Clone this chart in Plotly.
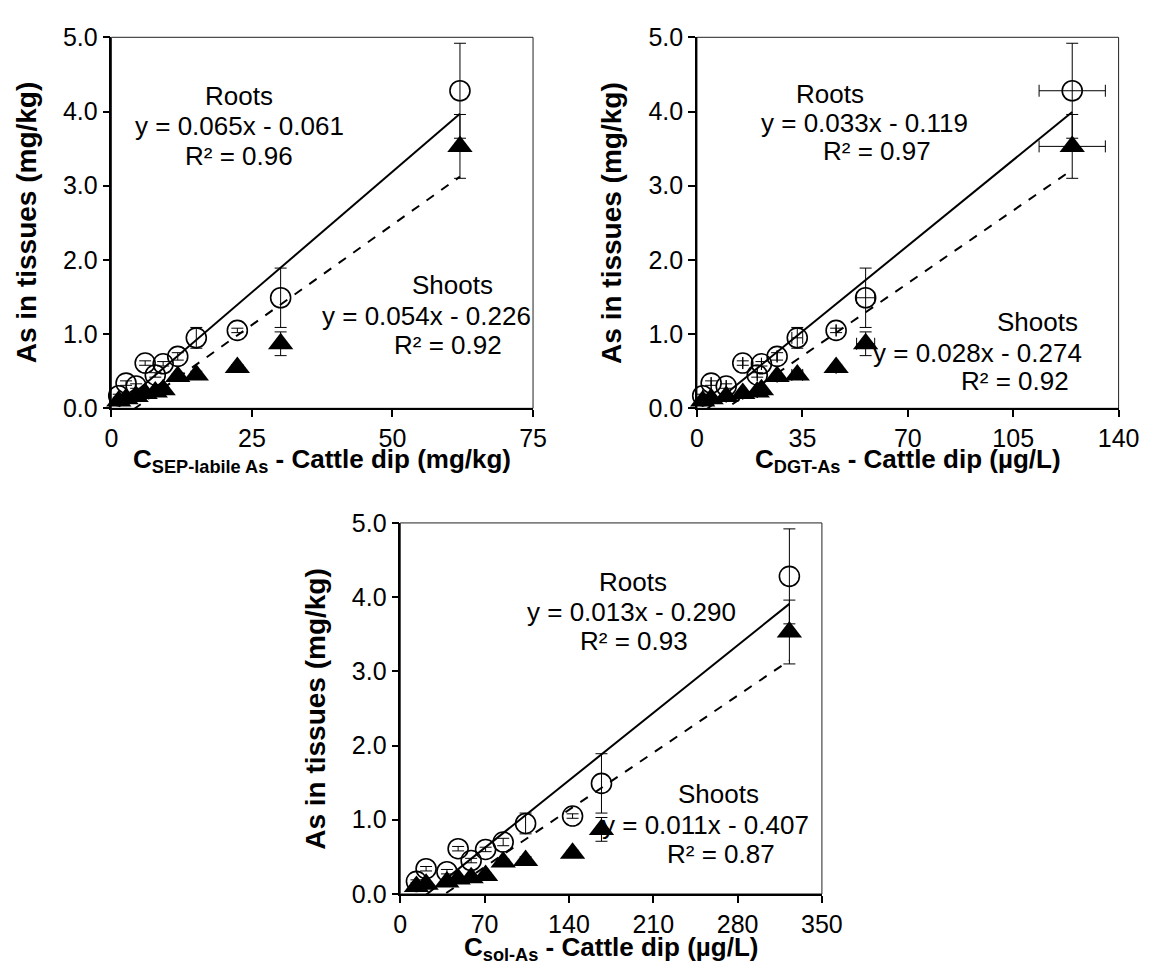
import plotly.graph_objects as go

W, H = 1164, 974

# ---------------- data ----------------
roots_y = [0.17, 0.34, 0.30, 0.61, 0.45, 0.60, 0.70, 0.95, 1.05, 1.49, 4.28]
roots_err = [0.02, 0.03, 0.03, 0.03, 0.03, 0.03, 0.05, 0.14, 0.03, 0.40, 0.64]
shoots_y = [0.10, 0.13, 0.16, 0.20, 0.22, 0.25, 0.43, 0.45, 0.55, 0.87, 3.53]
shoots_err = [0.01, 0.02, 0.02, 0.02, 0.03, 0.03, 0.04, 0.05, 0.04, 0.16, 0.43]

sep_x = [1.3, 2.6, 4.4, 6.0, 7.8, 9.2, 11.8, 15.1, 22.4, 30.1, 62.0]
dgt_x = [1.9, 4.7, 9.7, 15.2, 20.0, 21.4, 26.6, 33.3, 46.2, 56.0, 124.6]
dgt_xerr = [0, 0, 0, 0, 0, 0, 0, 1.8, 0, 3.0, 11.0]
sol_x = [13.4, 21.4, 38.7, 48.0, 58.8, 70.8, 85.4, 104.0, 143.0, 167.0, 323.0]

# trendline coefficients (slope, intercept, R2)
sep_roots_fit = [0.065, -0.061, 0.96]
sep_shoots_fit = [0.054, -0.226, 0.92]
dgt_roots_fit = [0.033, -0.119, 0.97]
dgt_shoots_fit = [0.028, -0.274, 0.92]
sol_roots_fit = [0.013, -0.290, 0.93]
sol_shoots_fit = [0.011, -0.407, 0.87]

sep_ticks = [0, 25, 50, 75]
dgt_ticks = [0, 35, 70, 105, 140]
sol_ticks = [0, 70, 140, 210, 280, 350]
y_ticks = [0, 1, 2, 3, 4, 5]

x_titles = [
    "<b>C<sub>SEP-labile As</sub> - Cattle dip (mg/kg)</b>",
    "<b>C<sub>DGT-As</sub> - Cattle dip (µg/L)</b>",
    "<b>C<sub>sol-As</sub> - Cattle dip (µg/L)</b>",
]
y_title = "<b>As in tissues (mg/kg)</b>"

# ---------------- layout geometry (pixels) ----------------
FONT = "Liberation Sans, Arial, sans-serif"
panels = [
    dict(x0=107, x1=539, y0=24, y1=406),
    dict(x0=707, x1=1139, y0=24, y1=406),
    dict(x0=403, x1=835, y0=524, y1=906),
]


def px(x):
    return x / W


def py(y):
    return 1 - y / H


fig = go.Figure()

panel_data = [
    (sep_x, None, sep_roots_fit, sep_shoots_fit, sep_ticks),
    (dgt_x, dgt_xerr, dgt_roots_fit, dgt_shoots_fit, dgt_ticks),
    (sol_x, None, sol_roots_fit, sol_shoots_fit, sol_ticks),
]

for i, (xs, xerr, rfit, sfit, ticks) in enumerate(panel_data):
    suf = "" if i == 0 else str(i + 1)
    xa, ya = "x" + suf, "y" + suf
    ex = dict(type="data", array=xerr, visible=True, thickness=1, width=6,
              color="black") if xerr else None
    # roots: open circles
    fig.add_trace(go.Scatter(
        x=xs, y=roots_y, xaxis=xa, yaxis=ya, mode="markers",
        marker=dict(symbol="circle-open", size=20, color="black",
                    line=dict(width=1.6, color="black")),
        error_y=dict(type="data", array=roots_err, visible=True, thickness=1,
                     width=6, color="black"),
        error_x=ex, cliponaxis=False, showlegend=False, hoverinfo="skip"))
    # shoots: filled triangles
    fig.add_trace(go.Scatter(
        x=xs, y=shoots_y, xaxis=xa, yaxis=ya, mode="markers",
        marker=dict(symbol="triangle-up", size=22, color="black",
                    line=dict(width=0)),
        error_y=dict(type="data", array=shoots_err, visible=True, thickness=1,
                     width=6, color="black"),
        error_x=ex, cliponaxis=False, showlegend=False, hoverinfo="skip"))
    # trendlines
    xmin, xmax = min(xs), max(xs)
    for fit, dash in ((rfit, "solid"), (sfit, "dash")):
        a, b = fit[0], fit[1]
        fig.add_trace(go.Scatter(
            x=[xmin, xmax], y=[a * xmin + b, a * xmax + b], xaxis=xa, yaxis=ya,
            mode="lines", line=dict(color="black", width=2, dash=dash),
            showlegend=False, hoverinfo="skip"))

    p = panels[i]
    axis_common = dict(showgrid=False, zeroline=False, showline=True,
                       linecolor="black", linewidth=1.5, ticks="outside",
                       ticklen=7, tickwidth=1.5, tickcolor="black",
                       tickfont=dict(family=FONT, size=25, color="black"),
                       mirror=False)
    fig.update_layout(**{
        "xaxis" + suf: dict(axis_common, domain=[px(p["x0"]), px(p["x1"])],
                            range=[ticks[0], ticks[-1]], tickvals=ticks,
                            anchor=ya),
        "yaxis" + suf: dict(axis_common, domain=[py(p["y1"]), py(p["y0"])],
                            range=[0, 5], tickvals=y_ticks, tickformat=".1f",
                            anchor=xa),
    })
    # plot frame (top/right thin border)
    fig.add_shape(type="rect", xref=xa + " domain", yref=ya + " domain",
                  x0=0, x1=1, y0=0, y1=1, line=dict(color="#222", width=1),
                  layer="below")

# ---------------- annotations ----------------
def eq_text(fit):
    a, b = fit[0], fit[1]
    sign = "-" if b < 0 else "+"
    return f"y = {a:.3f}x {sign} {abs(b):.3f}"


def r2_text(fit):
    return f"R² = {fit[2]:.2f}"


label_pos = [
    # (roots label, eq, r2), (shoots label, eq, r2)  pixel centres
    (((238, 84), (238, 115), (238, 146)), ((456, 279), (430, 311), (452, 341))),
    (((843, 82), (879, 112), (891, 141)), ((1056, 317), (994, 349), (1033, 378))),
    (((641, 585), (640, 616), (642, 646)), ((729, 803), (716, 835), (732, 865))),
]
fits = [(sep_roots_fit, sep_shoots_fit), (dgt_roots_fit, dgt_shoots_fit),
        (sol_roots_fit, sol_shoots_fit)]

for i in range(3):
    for name, fit, pos in (("Roots", fits[i][0], label_pos[i][0]),
                           ("Shoots", fits[i][1], label_pos[i][1])):
        for txt, (x, y) in zip((name, eq_text(fit), r2_text(fit)), pos):
            fig.add_annotation(x=px(x), y=py(y), xref="paper", yref="paper",
                               text=txt, showarrow=False, xanchor="center",
                               yanchor="middle",
                               font=dict(family=FONT, size=26, color="black"))

# axis titles
x_title_pos = [(323, 460), (923, 460), (619, 962)]
y_title_pos = [(20, 215), (620, 215), (316, 715)]
for i in range(3):
    x, y = x_title_pos[i]
    fig.add_annotation(x=px(x), y=py(y), xref="paper", yref="paper",
                       text=x_titles[i], showarrow=False, xanchor="center",
                       yanchor="middle",
                       font=dict(family=FONT, size=26, color="black"))
    x, y = y_title_pos[i]
    fig.add_annotation(x=px(x), y=py(y), xref="paper", yref="paper",
                       text=y_title, showarrow=False, textangle=-90,
                       xanchor="center", yanchor="middle",
                       font=dict(family=FONT, size=28, color="black"))

fig.update_layout(width=W, height=H, margin=dict(l=0, r=0, t=0, b=0),
                  paper_bgcolor="white", plot_bgcolor="white",
                  showlegend=False)

fig.write_html("out.html")
